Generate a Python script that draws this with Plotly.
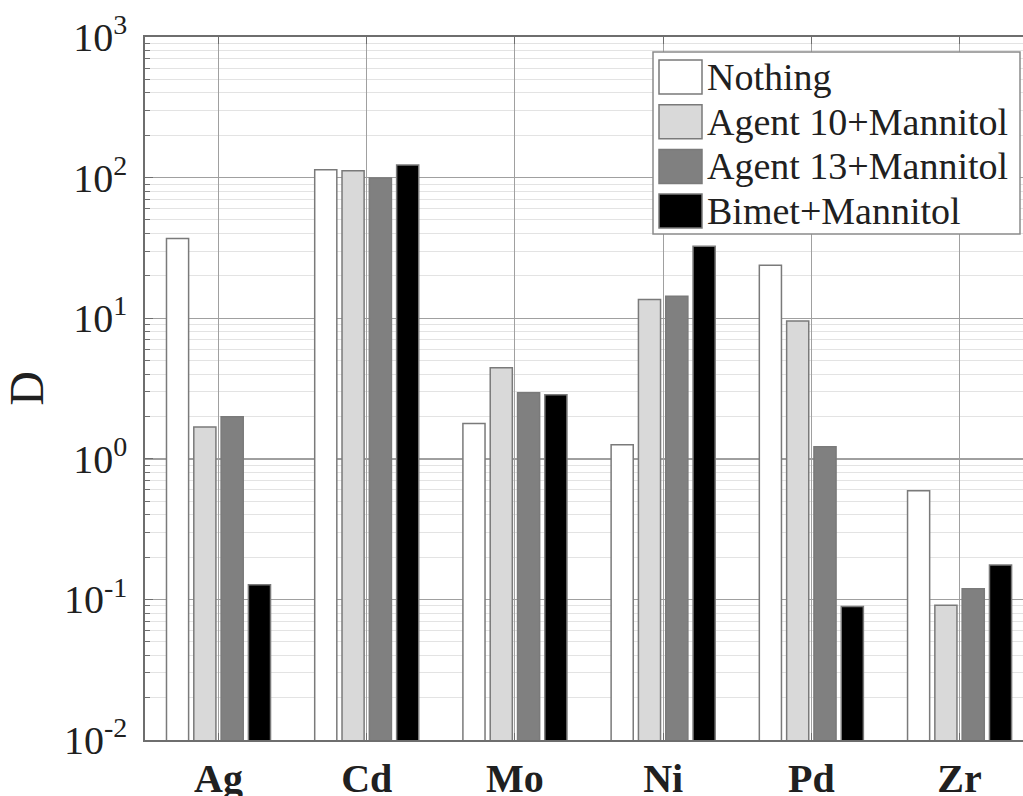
import plotly.graph_objects as go

categories = ["Ag", "Cd", "Mo", "Ni", "Pd", "Zr"]
series_names = ["Nothing", "Agent 10+Mannitol", "Agent 13+Mannitol", "Bimet+Mannitol"]
nothing = [36.9, 113.8, 1.78, 1.26, 23.8, 0.593]
agent10 = [1.68, 112.0, 4.45, 13.6, 9.55, 0.0907]
agent13 = [1.99, 99.4, 2.95, 14.3, 1.22, 0.119]
bimet = [0.127, 123.0, 2.86, 32.5, 0.089, 0.176]
series_values = [nothing, agent10, agent13, bimet]
series_colors = ["#ffffff", "#d9d9d9", "#808080", "#000000"]

ytick_vals = [0.01, 0.1, 1, 10, 100, 1000]
ytick_text = ["10<sup>-2</sup>", "10<sup>-1</sup>", "10<sup>0</sup>",
              "10<sup>1</sup>", "10<sup>2</sup>", "10<sup>3</sup>"]

FONT = "Liberation Serif, Times New Roman, serif"
W, H = 1023, 796
ML, MR, MT, MB = 145, 0, 37, 56
PW, PH = W - ML - MR, H - MT - MB

fig = go.Figure()
for name, vals, col in zip(series_names, series_values, series_colors):
    fig.add_trace(go.Bar(
        x=categories, y=vals, name=name,
        marker=dict(color=col, line=dict(color="#7a7a7a", width=1.5)),
        showlegend=False,
    ))

minor_vals = [m * 10 ** e for e in range(-2, 3) for m in range(2, 10)]

fig.update_layout(
    width=W, height=H,
    margin=dict(l=ML, r=MR, t=MT, b=MB, autoexpand=False),
    paper_bgcolor="white", plot_bgcolor="white",
    barmode="group", bargap=0.263, bargroupgap=0.19,
    font=dict(family=FONT, color="black"),
    xaxis=dict(
        range=[-0.496, 5.428], automargin=False,
        showgrid=True, gridcolor="#a0a0a0", gridwidth=1,
        showline=True, linecolor="#6e6e6e", linewidth=1.5, mirror="ticks",
        ticks="inside", ticklen=7, tickcolor="#6e6e6e",
        tickfont=dict(family=FONT, size=40, weight="bold", color="#202020"),
        ticklabelstandoff=2,
    ),
    yaxis=dict(
        type="log", range=[-2, 3], automargin=False,
        tickvals=ytick_vals, ticktext=ytick_text,
        showgrid=True, gridcolor="#a0a0a0", gridwidth=1,
        showline=True, linecolor="#6e6e6e", linewidth=1.5, mirror=False,
        ticks="inside", ticklen=8, tickcolor="#6e6e6e",
        tickfont=dict(family=FONT, size=40, color="#202020"),
        ticklabelstandoff=8,
        minor=dict(tickvals=minor_vals, ticks="inside", ticklen=5,
                   tickcolor="#6e6e6e", showgrid=True, gridcolor="#e3e3e3",
                   gridwidth=1),
        title=dict(text="D", font=dict(family=FONT, size=48, color="#202020"),
                   standoff=14),
        zeroline=False,
    ),
)

# reference line at D = 1
fig.add_shape(type="line", xref="paper", yref="y", x0=0, x1=1, y0=1, y1=1,
              line=dict(color="#404040", width=1.2), layer="below")

# custom legend (large swatches as in the reference)
def px_x(p):
    return (p - ML) / PW

def px_y(p):
    return (H - MB - p) / PH

fig.add_shape(type="rect", xref="paper", yref="paper",
              x0=px_x(653), x1=px_x(1020), y0=px_y(234), y1=px_y(52),
              line=dict(color="#8a8a8a", width=1.5), fillcolor="white", layer="above")
row_top0, row_pitch, sw_h = 60, 44.7, 34
for i, (name, col) in enumerate(zip(series_names, series_colors)):
    top = row_top0 + i * row_pitch
    fig.add_shape(type="rect", xref="paper", yref="paper",
                  x0=px_x(659), x1=px_x(702), y0=px_y(top + sw_h), y1=px_y(top),
                  line=dict(color="#7a7a7a", width=1.5), fillcolor=col, layer="above")
    fig.add_annotation(xref="paper", yref="paper", x=px_x(705), y=px_y(top + sw_h / 2),
                       text=name, showarrow=False, xanchor="left", yanchor="middle",
                       font=dict(family=FONT, size=38, color="#202020"))

fig.write_html("out.html", config={"displayModeBar": False},
               post_script="document.body.style.margin='0';document.body.style.overflow='hidden';")
